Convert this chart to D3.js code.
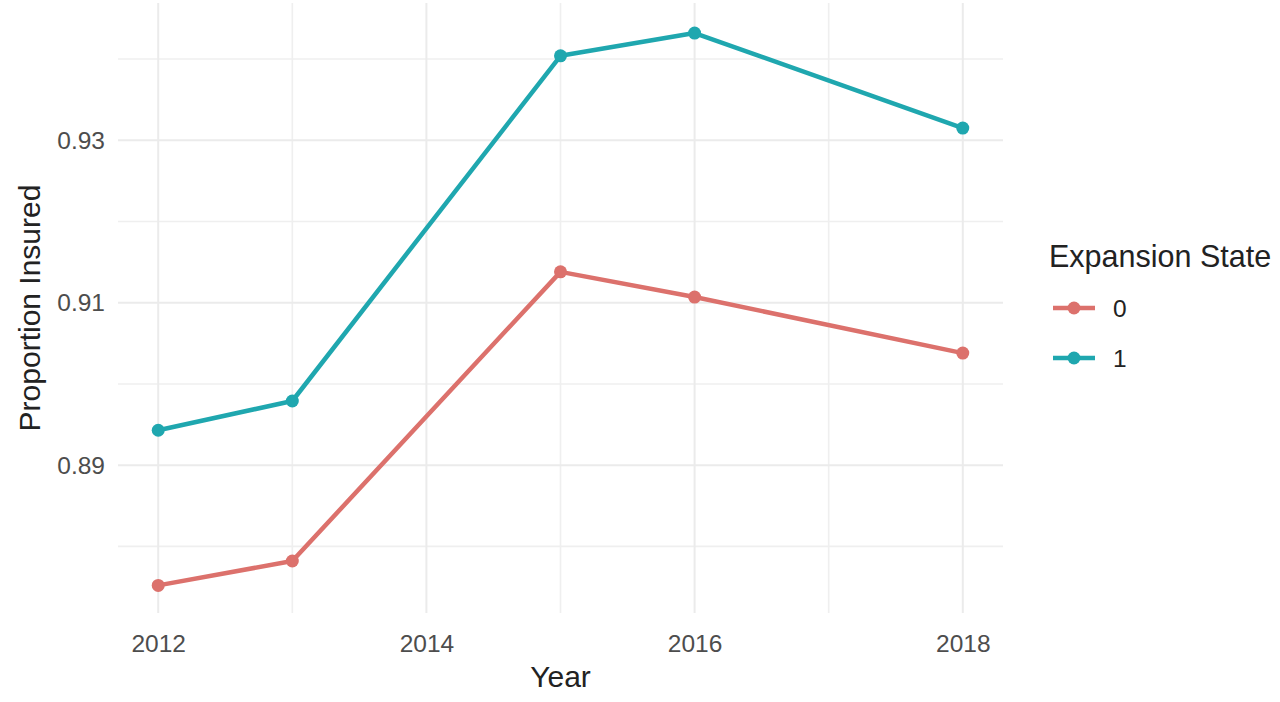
<!DOCTYPE html>
<html>
<head>
<meta charset="utf-8">
<script src="https://cdn.jsdelivr.net/npm/d3@7"></script>
<style>
  body { margin: 0; background: #fff; }
  text { font-family: "Liberation Sans", Arial, sans-serif; }
</style>
</head>
<body>
<script>
// chart size
var w = 1280;
var h = 702;

// data
var years = [2012, 2013, 2015, 2016, 2018];
var state0 = [0.8752, 0.8782, 0.9138, 0.9107, 0.9038];
var state1 = [0.8943, 0.8979, 0.9404, 0.9432, 0.9315];
var stateNames = ["0", "1"];
var xTicks = [2012, 2014, 2016, 2018];
var xMinor = [2013, 2015, 2017];
var yTicks = [0.89, 0.91, 0.93];
var yMinor = [0.88, 0.90, 0.92, 0.94];

var colors = ["#dc716c", "#1fa7af"];

var svg = d3.select("body")
  .append("svg")
  .attr("width", w)
  .attr("height", h);

var x = d3.scaleLinear().domain([2011.7, 2018.3]).range([118, 1003]);
var y = d3.scaleLinear().domain([0.8718, 0.9469]).range([613, 3]);

// grid
var grid = svg.append("g");
grid.selectAll(".ymin").data(yMinor).enter().append("line")
  .attr("x1", x.range()[0]).attr("x2", x.range()[1])
  .attr("y1", function(d) { return y(d); }).attr("y2", function(d) { return y(d); })
  .attr("stroke", "#efefef").attr("stroke-width", 1.6);
grid.selectAll(".xmin").data(xMinor).enter().append("line")
  .attr("y1", y.range()[0]).attr("y2", y.range()[1])
  .attr("x1", function(d) { return x(d); }).attr("x2", function(d) { return x(d); })
  .attr("stroke", "#efefef").attr("stroke-width", 1.6);
grid.selectAll(".ymaj").data(yTicks).enter().append("line")
  .attr("x1", x.range()[0]).attr("x2", x.range()[1])
  .attr("y1", function(d) { return y(d); }).attr("y2", function(d) { return y(d); })
  .attr("stroke", "#ebebeb").attr("stroke-width", 2);
grid.selectAll(".xmaj").data(xTicks).enter().append("line")
  .attr("y1", y.range()[0]).attr("y2", y.range()[1])
  .attr("x1", function(d) { return x(d); }).attr("x2", function(d) { return x(d); })
  .attr("stroke", "#ebebeb").attr("stroke-width", 2);

// axes (labels only)
var xAxis = svg.append("g")
  .attr("transform", "translate(0," + 632 + ")")
  .call(d3.axisBottom(x).tickValues(xTicks).tickSize(0).tickFormat(d3.format("d")));
var yAxis = svg.append("g")
  .attr("transform", "translate(" + 108 + ",0)")
  .call(d3.axisLeft(y).tickValues(yTicks).tickSize(0).tickFormat(d3.format(".2f")));
[xAxis, yAxis].forEach(function(a) {
  a.select(".domain").remove();
  a.selectAll("text")
    .attr("font-family", "Liberation Sans, Arial, sans-serif")
    .attr("font-size", "24.5px")
    .attr("fill", "#4d4d4d");
});

// lines and points
var series = [state0, state1];
var line = d3.line()
  .x(function(d, i) { return x(years[i]); })
  .y(function(d) { return y(d); });

series.forEach(function(vals, k) {
  svg.append("path")
    .datum(vals)
    .attr("d", line)
    .attr("fill", "none")
    .attr("stroke", colors[k])
    .attr("stroke-width", 4.5)
    .attr("stroke-linejoin", "round");
  svg.selectAll(".pt" + k)
    .data(vals)
    .enter()
    .append("circle")
    .attr("cx", function(d, i) { return x(years[i]); })
    .attr("cy", function(d) { return y(d); })
    .attr("r", 6.5)
    .attr("fill", colors[k]);
});

// axis titles
svg.append("text")
  .text("Year")
  .attr("x", (x.range()[0] + x.range()[1]) / 2)
  .attr("y", 687)
  .attr("text-anchor", "middle")
  .attr("font-size", "30px")
  .attr("fill", "#222");

svg.append("text")
  .text("Proportion Insured")
  .attr("transform", "translate(40," + (y.range()[0] + y.range()[1]) / 2 + ") rotate(-90)")
  .attr("text-anchor", "middle")
  .attr("font-size", "30px")
  .attr("fill", "#222");

// legend
var legend = svg.append("g").attr("transform", "translate(1049,0)");
legend.append("text")
  .text("Expansion State")
  .attr("x", 0)
  .attr("y", 267)
  .attr("font-size", "30.5px")
  .attr("fill", "#222");

var keyY = d3.scalePoint().domain(stateNames).range([308, 358]);
stateNames.forEach(function(name, k) {
  var ky = keyY(name);
  legend.append("line")
    .attr("x1", 4).attr("x2", 46)
    .attr("y1", ky).attr("y2", ky)
    .attr("stroke", colors[k])
    .attr("stroke-width", 4.5);
  legend.append("circle")
    .attr("cx", 25).attr("cy", ky).attr("r", 6.5)
    .attr("fill", colors[k]);
  legend.append("text")
    .text(name)
    .attr("x", 64)
    .attr("y", ky + 9)
    .attr("font-size", "24.5px")
    .attr("fill", "#222");
});
</script>
</body>
</html>
